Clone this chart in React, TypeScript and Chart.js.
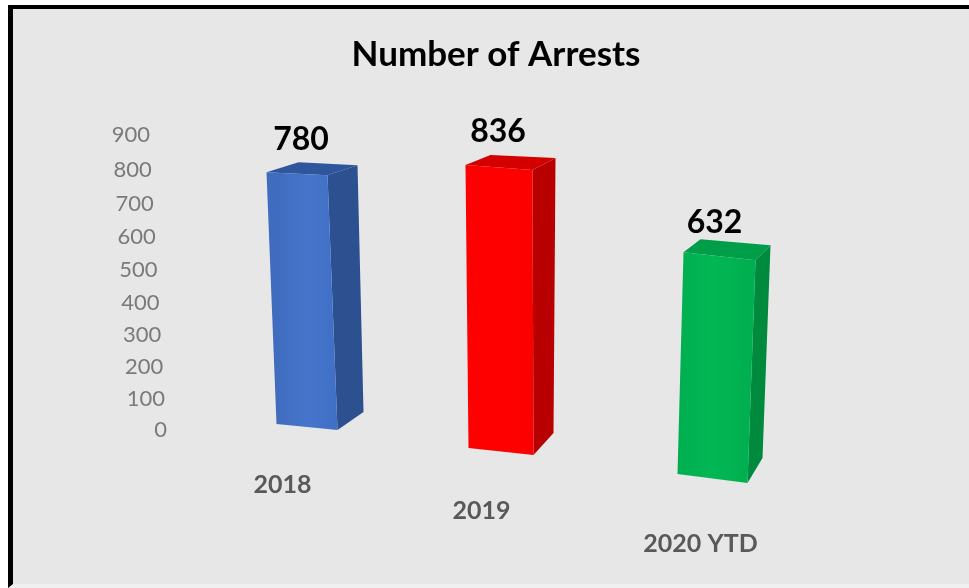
import React, { useEffect, useRef } from "react";
import { Chart, registerables, BarController, BarElement } from "chart.js";

Chart.register(...registerables);

const years = ["2018", "2019", "2020 YTD"];
const arrests = [780, 836, 632];
const axisTicks = [0, 100, 200, 300, 400, 500, 600, 700, 800, 900];

const frontColors = [
  ["#3f6cbf", "#4675cb", "#4070c6"],
  ["#fd0000", "#ff0000", "#fb0000"],
  ["#00ae50", "#03b755", "#00af4f"],
];
const sideColors = ["#2c5090", "#b80000", "#008a3e"];
const topColors = ["#2f559c", "#d40000", "#009e48"];

// Camera pose of each column: the floor recedes from front to back as the axis runs left to right.
const poses = [
  { shift: -24, drop: -6, stretch: 0.985, lean: -10, faceTop: 61, faceFoot: 61, tilt: 3, foot: 6, backLeft: [32, -10], backRight: [30, -10], backFoot: [26, -18], labelDx: 4, labelDy: -32 },
  { shift: -37, drop: 18, stretch: 1.033, lean: -3, faceTop: 67, faceFoot: 65, tilt: 5, foot: 7, backLeft: [25, -10], backRight: [23, -12], backFoot: [20, -22], labelDx: -1, labelDy: -33 },
  { shift: -33, drop: 44, stretch: 1.071, lean: 6, faceTop: 72, faceFoot: 70, tilt: 8, foot: 9, backLeft: [17, -13], backRight: [15, -15], backFoot: [15, -25], labelDx: -5, labelDy: -29 },
];

const FONT = "Lato, 'Open Sans', sans-serif";
const columnShape = (el: any, index: number) => {
  const p = poses[index];
  const height = (el.base - el.y) * p.stretch;
  const footL = { x: el.x + p.shift, y: el.base + p.drop };
  const footR = { x: footL.x + p.faceFoot, y: footL.y + p.foot };
  const headL = { x: footL.x + p.lean, y: footL.y - height };
  const headR = { x: headL.x + p.faceTop, y: headL.y + p.tilt };
  return {
    footL, footR, headL, headR,
    backL: { x: headL.x + p.backLeft[0], y: headL.y + p.backLeft[1] },
    backR: { x: headR.x + p.backRight[0], y: headR.y + p.backRight[1] },
    backFoot: { x: footR.x + p.backFoot[0], y: footR.y + p.backFoot[1] },
  };
};

const fillPolygon = (ctx: CanvasRenderingContext2D, pts: { x: number; y: number }[], fill: any) => {
  ctx.beginPath();
  pts.forEach((pt, i) => (i ? ctx.lineTo(pt.x, pt.y) : ctx.moveTo(pt.x, pt.y)));
  ctx.closePath();
  ctx.fillStyle = fill;
  ctx.fill();
};

class ColumnElement extends BarElement {
  static id = "column3d";
  columnIndex = 0;
  draw(ctx: CanvasRenderingContext2D) {
    const index = this.columnIndex;
    const s = columnShape(this, index);
    const shade = ctx.createLinearGradient(s.footL.x, 0, s.footR.x, 0);
    frontColors[index].forEach((c, i) => shade.addColorStop(i / 2, c));
    ctx.save();
    fillPolygon(ctx, [s.headR, s.backR, s.backFoot, s.footR], sideColors[index]);
    fillPolygon(ctx, [s.headL, s.backL, s.backR, s.headR], topColors[index]);
    fillPolygon(ctx, [s.headL, s.headR, s.footR, s.footL], shade);
    ctx.restore();
  }
}

class ColumnController extends BarController {
  static id = "column3d";
  static defaults = { ...BarController.defaults, dataElementType: "column3d" };
  draw() {
    (this as any)._cachedMeta.data.forEach((el: any, i: number) => { el.columnIndex = i; });
    super.draw();
  }
}

Chart.register(ColumnElement as any, ColumnController as any);

// Axis labels follow the same receding floor as the columns; the title stays centred on the panel.
const perspectiveAxes = {
  id: "perspectiveAxes",
  beforeDraw(chart: any) {
    const y = chart.scales.y;
    const x = chart.scales.x;
    chart.titleBlock.left = 23;
    chart.titleBlock.right = 969;
    y.getLabelItems(chart.chartArea).forEach((item: any) => {
      const value = Number(item.label);
      const t = (value - 450) / 450;
      item.options.translation[0] = 167 - value * 0.0189;
      item.options.translation[1] = y.getPixelForValue(value) + 4.2 * (1 - t * t);
    });
    const spots = [[-18, 40], [-24, 66], [-10, 99]];
    x.getLabelItems(chart.chartArea).forEach((item: any, i: number) => {
      item.options.translation[0] = x.getPixelForTick(i) + spots[i][0];
      item.options.translation[1] = y.getPixelForValue(0) + spots[i][1];
    });
  },
};

const valueLabels = {
  id: "valueLabels",
  afterDatasetsDraw(chart: any) {
    const { ctx } = chart;
    ctx.save();
    ctx.font = `bold 32px ${FONT}`;
    ctx.fillStyle = "#000000";
    ctx.textAlign = "center";
    ctx.textBaseline = "middle";
    chart.getDatasetMeta(0).data.forEach((el: any, i: number) => {
      const s = columnShape(el, i);
      const p = poses[i];
      ctx.fillText(String(arrests[i]), (s.headL.x + s.headR.x) / 2 + p.labelDx, s.headL.y + p.labelDy);
    });
    ctx.restore();
  },
};

export default function App() {
  const ref = useRef<HTMLCanvasElement>(null);

  useEffect(() => {
    const chart = new Chart(ref.current as HTMLCanvasElement, {
      type: "column3d" as any,
      data: {
        labels: years,
        datasets: [{ label: "Number of Arrests", data: arrests, barPercentage: 0.32, categoryPercentage: 1, clip: false }],
      },
      plugins: [perspectiveAxes, valueLabels],
      options: {
        responsive: false,
        animation: false,
        layout: { padding: { left: 23, right: 156, top: 34, bottom: 20 } },
        plugins: {
          legend: { display: false },
          tooltip: { enabled: false },
          title: {
            display: true,
            text: "Number of Arrests",
            color: "#000000",
            font: { family: FONT, size: 35, weight: "bold", lineHeight: 1.2 },
            padding: { top: 0, bottom: 59 },
          },
        },
        scales: {
          x: {
            type: "category",
            offset: true,
            grid: { display: false },
            border: { display: false },
            afterFit: (s: any) => { s.height = 138; },
            ticks: { color: "#595959", font: { family: FONT, size: 25, weight: "bold" }, maxRotation: 0, autoSkip: false },
          },
          y: {
            type: "linear",
            min: 0,
            max: 900,
            afterBuildTicks: (s: any) => { s.ticks = axisTicks.map((value) => ({ value })); },
            afterFit: (s: any) => { s.width = 175; },
            grid: { display: false },
            border: { display: false },
            ticks: { color: "#7a7a7a", font: { family: FONT, size: 22 } },
          },
        },
      } as any,
    });
    return () => chart.destroy();
  }, []);

  return (
    <div style={{ position: "fixed", inset: 0, background: "#ffffff", overflow: "hidden" }}>
      <div style={{ position: "absolute", left: 8, top: 5, right: 0, bottom: 0, background: "#e7e7e7", borderLeft: "5px solid #000", borderTop: "4px solid #000", borderBottom: "4px solid #f0f0f0", boxSizing: "border-box" }} />
      <canvas ref={ref} width={969} height={588} style={{ position: "absolute", left: 0, top: 0, display: "block" }} />
    </div>
  );
}
